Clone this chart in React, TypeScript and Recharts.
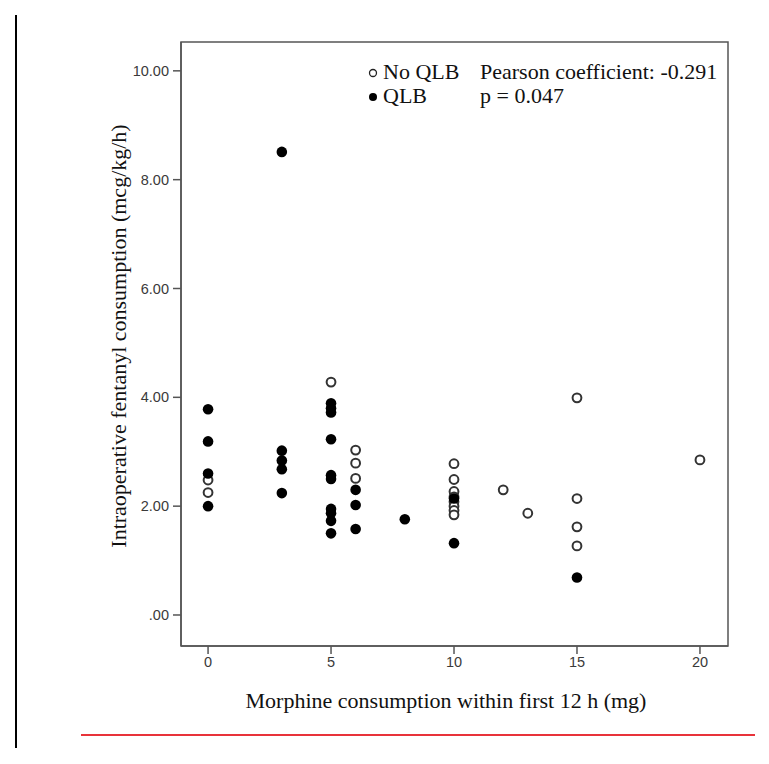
import React from 'react';
import {
  ScatterChart,
  Scatter,
  XAxis,
  YAxis,
  ReferenceArea,
  Legend,
  Label
} from 'recharts';

// morphine (mg, first 12 h) vs intraoperative fentanyl (mcg/kg/h)
const NO_QLB = [
  { morphine: 0, fentanyl: 2.48 },
  { morphine: 0, fentanyl: 2.25 },
  { morphine: 5, fentanyl: 4.28 },
  { morphine: 6, fentanyl: 3.03 },
  { morphine: 6, fentanyl: 2.79 },
  { morphine: 6, fentanyl: 2.51 },
  { morphine: 10, fentanyl: 2.78 },
  { morphine: 10, fentanyl: 2.49 },
  { morphine: 10, fentanyl: 2.27 },
  { morphine: 10, fentanyl: 2.17 },
  { morphine: 10, fentanyl: 2.08 },
  { morphine: 10, fentanyl: 2.0 },
  { morphine: 10, fentanyl: 1.92 },
  { morphine: 10, fentanyl: 1.84 },
  { morphine: 12, fentanyl: 2.3 },
  { morphine: 13, fentanyl: 1.87 },
  { morphine: 15, fentanyl: 3.99 },
  { morphine: 15, fentanyl: 2.14 },
  { morphine: 15, fentanyl: 1.62 },
  { morphine: 15, fentanyl: 1.27 },
  { morphine: 20, fentanyl: 2.85 }
];

const QLB = [
  { morphine: 0, fentanyl: 3.78 },
  { morphine: 0, fentanyl: 3.19 },
  { morphine: 0, fentanyl: 2.6 },
  { morphine: 0, fentanyl: 2.0 },
  { morphine: 3, fentanyl: 8.51 },
  { morphine: 3, fentanyl: 3.02 },
  { morphine: 3, fentanyl: 2.84 },
  { morphine: 3, fentanyl: 2.68 },
  { morphine: 3, fentanyl: 2.24 },
  { morphine: 5, fentanyl: 3.89 },
  { morphine: 5, fentanyl: 3.8 },
  { morphine: 5, fentanyl: 3.72 },
  { morphine: 5, fentanyl: 3.23 },
  { morphine: 5, fentanyl: 2.57 },
  { morphine: 5, fentanyl: 2.5 },
  { morphine: 5, fentanyl: 1.95 },
  { morphine: 5, fentanyl: 1.87 },
  { morphine: 5, fentanyl: 1.73 },
  { morphine: 5, fentanyl: 1.5 },
  { morphine: 6, fentanyl: 2.3 },
  { morphine: 6, fentanyl: 2.02 },
  { morphine: 6, fentanyl: 1.58 },
  { morphine: 8, fentanyl: 1.76 },
  { morphine: 10, fentanyl: 2.14 },
  { morphine: 10, fentanyl: 1.32 },
  { morphine: 15, fentanyl: 0.69 }
];

const X_TICKS = [0, 5, 10, 15, 20];
const Y_TICKS = [0, 2, 4, 6, 8, 10];
const X_DOMAIN = [-1.1, 21.14];
const Y_DOMAIN = [-0.57, 10.53];
const STATS = ['Pearson coefficient: -0.291', 'p = 0.047'];

const AXIS = '#555';
const SERIF = '"Liberation Serif", "Times New Roman", serif';
const tickStyle = { fontFamily: '"Liberation Sans", Arial, sans-serif', fontSize: 14.5, fill: '#3a3a3a' };

const OpenDot = (p: any) => (
  <circle cx={p.cx} cy={p.cy} r={4.4} fill="#fff" stroke="#333" strokeWidth={2} />
);
const FilledDot = (p: any) => <circle cx={p.cx} cy={p.cy} r={5.3} fill="#000" />;

const LegendBox = () => (
  <div style={{ fontFamily: SERIF, fontSize: 22, lineHeight: '24px', color: '#111', position: 'relative', width: 390, height: 48 }}>
    <div style={{ position: 'absolute', left: 0, top: 0, whiteSpace: 'nowrap' }}>
      <svg width={14} height={24} style={{ verticalAlign: 'top' }}>
        <circle cx={7} cy={13} r={3.5} fill="#fff" stroke="#222" strokeWidth={1.3} />
      </svg>
      <span style={{ marginLeft: 3 }}>No QLB</span>
    </div>
    <div style={{ position: 'absolute', left: 0, top: 24, whiteSpace: 'nowrap' }}>
      <svg width={14} height={24} style={{ verticalAlign: 'top' }}>
        <circle cx={7} cy={13} r={4} fill="#000" />
      </svg>
      <span style={{ marginLeft: 3 }}>QLB</span>
    </div>
    <div style={{ position: 'absolute', left: 114, top: 0, whiteSpace: 'nowrap' }}>{STATS[0]}</div>
    <div style={{ position: 'absolute', left: 114, top: 24, whiteSpace: 'nowrap' }}>{STATS[1]}</div>
  </div>
);

const YTitle = ({ viewBox }: any) => {
  const x = viewBox.x + viewBox.width / 2 - 33;
  const y = viewBox.y + viewBox.height / 2 - 8;
  return (
    <text
      x={x}
      y={y}
      transform={`rotate(-90, ${x}, ${y})`}
      textAnchor="middle"
      dominantBaseline="central"
      style={{ fontFamily: SERIF, fontSize: 22, fill: '#111' }}
    >
      Intraoperative fentanyl consumption (mcg/kg/h)
    </text>
  );
};

const XTitle = ({ viewBox }: any) => (
  <text
    x={viewBox.x + viewBox.width / 2 - 8.5}
    y={viewBox.y + viewBox.height + 24}
    textAnchor="middle"
    dominantBaseline="central"
    style={{ fontFamily: SERIF, fontSize: 22, fill: '#111' }}
  >
    Morphine consumption within first 12 h (mg)
  </text>
);

export default function App() {
  return (
    <div style={{ position: 'relative', width: 761, height: 756 }}>
      <div style={{ position: 'absolute', left: 7, top: 7, width: 1.5, height: 733, background: '#000' }} />
      <div style={{ position: 'absolute', left: 73, top: 726, width: 674, height: 1.5, background: '#e8333a' }} />
      <ScatterChart width={761} height={748} margin={{ top: 34, right: 41, bottom: 80, left: 113 }}>
        <XAxis
          type="number"
          dataKey="morphine"
          domain={X_DOMAIN}
          ticks={X_TICKS}
          allowDataOverflow
          height={30}
          tickSize={8}
          tickMargin={3}
          axisLine={{ stroke: AXIS, strokeWidth: 1.5 }}
          tickLine={{ stroke: AXIS, strokeWidth: 1.5 }}
          tick={tickStyle}
        >
          <Label content={<XTitle />} />
        </XAxis>
        <YAxis
          type="number"
          dataKey="fentanyl"
          domain={Y_DOMAIN}
          ticks={Y_TICKS}
          allowDataOverflow
          width={60}
          tickSize={8}
          tickMargin={4}
          tickFormatter={(v: number) => (v === 0 ? '.00' : v.toFixed(2))}
          axisLine={{ stroke: AXIS, strokeWidth: 1.5 }}
          tickLine={{ stroke: AXIS, strokeWidth: 1.5 }}
          tick={tickStyle}
        >
          <Label content={<YTitle />} />
        </YAxis>
        <ReferenceArea
          x1={X_DOMAIN[0]}
          x2={X_DOMAIN[1]}
          y1={Y_DOMAIN[0]}
          y2={Y_DOMAIN[1]}
          fill="none"
          stroke={AXIS}
          strokeWidth={1.5}
          ifOverflow="visible"
        />
        <Scatter name="No QLB" data={NO_QLB} shape={OpenDot} isAnimationActive={false} />
        <Scatter name="QLB" data={QLB} shape={FilledDot} isAnimationActive={false} />
        <Legend
          layout="horizontal"
          verticalAlign="middle"
          align="center"
          content={<LegendBox />}
          wrapperStyle={{ top: 52, left: 358, width: 390 }}
        />
      </ScatterChart>
    </div>
  );
}
